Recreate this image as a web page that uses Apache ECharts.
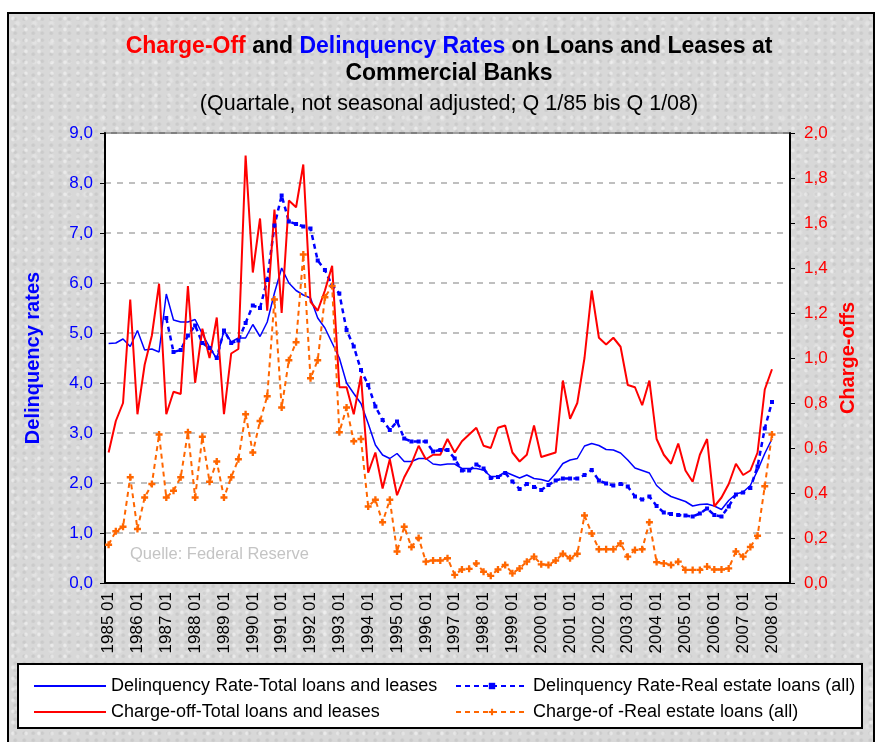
<!DOCTYPE html>
<html>
<head>
<meta charset="utf-8">
<title>Charge-Off and Delinquency Rates</title>
<script src="https://cdn.jsdelivr.net/npm/echarts@6/dist/echarts.min.js"></script>
<style>
html, body { margin: 0; padding: 0; background: #fff; }
#frame {
    position: absolute; left: 7px; top: 12px; width: 864px; height: 740px;
    border: 2px solid #000; border-bottom: none;
    background-color: #d8d8d8;
    background-image:
        radial-gradient(circle at 30% 40%, rgba(255,255,255,0.45) 1px, rgba(255,255,255,0) 2.5px),
        radial-gradient(circle at 70% 75%, rgba(170,170,170,0.3) 1px, rgba(170,170,170,0) 2.5px),
        radial-gradient(circle at 50% 50%, rgba(240,240,240,0.4) 1.5px, rgba(240,240,240,0) 3.5px);
    background-size: 13px 11px, 9px 7px, 17px 19px;
}
#main { position: absolute; left: 0; top: 0; width: 875px; height: 742px; }
</style>
</head>
<body>
<div id="frame"></div>
<div id="main"></div>
<script>
// Quarterly data, Q1 1985 .. Q1 2008 (93 quarters)
var years = [1985, 1986, 1987, 1988, 1989, 1990, 1991, 1992, 1993, 1994, 1995, 1996,
             1997, 1998, 1999, 2000, 2001, 2002, 2003, 2004, 2005, 2006, 2007, 2008];
var quarterNames = ['01', '02', '03', '04'];

// Delinquency rate, total loans and leases (left axis, %)
var delinqTotal = [4.79, 4.80, 4.88, 4.73, 5.05, 4.66, 4.68, 4.62, 5.78, 5.26,
    5.22, 5.22, 5.27, 4.98, 4.72, 4.48, 5.05, 4.82, 4.90, 4.90,
    5.17, 4.93, 5.22, 5.80, 6.30, 6.00, 5.85, 5.76, 5.70, 5.30,
    5.10, 4.80, 4.50, 4.00, 3.79, 3.59, 3.19, 2.76, 2.56, 2.49,
    2.59, 2.43, 2.43, 2.49, 2.49, 2.38, 2.36, 2.38, 2.38, 2.29,
    2.29, 2.29, 2.26, 2.13, 2.13, 2.22, 2.16, 2.10, 2.16, 2.09,
    2.07, 2.03, 2.19, 2.39, 2.46, 2.49, 2.74, 2.79, 2.75, 2.67,
    2.66, 2.60, 2.46, 2.30, 2.25, 2.20, 1.95, 1.82, 1.73, 1.68,
    1.63, 1.54, 1.57, 1.58, 1.54, 1.47, 1.65, 1.78, 1.82, 1.95,
    2.25, 2.59, 2.88];

// Delinquency rate, real estate loans (left axis, %), starts 1987
var delinqRealEstate = [null, null, null, null, null, null, null, null, 5.30, 4.62,
    4.66, 4.95, 5.15, 4.80, 4.70, 4.50, 5.05, 4.80, 4.85, 5.20,
    5.55, 5.50, 6.06, 7.15, 7.75, 7.23, 7.18, 7.13, 7.09, 6.45,
    6.26, 5.95, 5.79, 5.06, 4.73, 4.26, 3.96, 3.53, 3.26, 3.06,
    3.23, 2.89, 2.83, 2.83, 2.83, 2.63, 2.66, 2.66, 2.49, 2.25,
    2.25, 2.37, 2.29, 2.10, 2.12, 2.20, 2.03, 1.88, 1.98, 1.92,
    1.86, 1.96, 2.05, 2.09, 2.09, 2.09, 2.16, 2.26, 2.05, 1.99,
    1.95, 1.98, 1.93, 1.73, 1.67, 1.73, 1.54, 1.41, 1.38, 1.36,
    1.35, 1.33, 1.39, 1.49, 1.36, 1.33, 1.53, 1.77, 1.81, 1.90,
    2.33, 3.09, 3.62];

// Charge-off rate, total loans and leases (right axis, %)
var chargeOffTotal = [0.58, 0.72, 0.80, 1.26, 0.75, 0.97, 1.10, 1.33, 0.75, 0.85,
    0.84, 1.32, 0.89, 1.13, 1.00, 1.18, 0.75, 1.02, 1.04, 1.90,
    1.38, 1.62, 1.21, 1.66, 1.20, 1.70, 1.67, 1.86, 1.25, 1.21,
    1.30, 1.41, 0.87, 0.87, 0.75, 0.92, 0.49, 0.58, 0.42, 0.55,
    0.39, 0.47, 0.53, 0.61, 0.55, 0.57, 0.57, 0.64, 0.58, 0.63,
    0.66, 0.69, 0.61, 0.60, 0.69, 0.70, 0.58, 0.54, 0.57, 0.70,
    0.56, 0.57, 0.58, 0.90, 0.73, 0.80, 1.00, 1.30, 1.09, 1.06,
    1.09, 1.05, 0.88, 0.87, 0.79, 0.90, 0.64, 0.57, 0.53, 0.62,
    0.50, 0.45, 0.57, 0.64, 0.34, 0.38, 0.44, 0.53, 0.48, 0.50,
    0.58, 0.86, 0.95];

// Charge-off rate, real estate loans (right axis, %)
var chargeOffRealEstate = [0.17, 0.23, 0.25, 0.47, 0.24, 0.38, 0.44, 0.66, 0.38, 0.41,
    0.47, 0.67, 0.38, 0.65, 0.45, 0.54, 0.38, 0.47, 0.55, 0.75,
    0.58, 0.72, 0.83, 1.26, 0.78, 0.99, 1.07, 1.46, 0.91, 0.99,
    1.27, 1.32, 0.67, 0.78, 0.63, 0.64, 0.34, 0.37, 0.27, 0.37,
    0.14, 0.25, 0.16, 0.20, 0.095, 0.10, 0.10, 0.11, 0.036, 0.06,
    0.063, 0.087, 0.05, 0.032, 0.06, 0.08, 0.043, 0.065, 0.095, 0.117,
    0.083, 0.08, 0.10, 0.13, 0.11, 0.13, 0.30, 0.22, 0.15, 0.15,
    0.15, 0.176, 0.117, 0.147, 0.15, 0.27, 0.093, 0.087, 0.08, 0.095,
    0.058, 0.058, 0.058, 0.073, 0.06, 0.06, 0.065, 0.14, 0.117, 0.16,
    0.21, 0.43, 0.66];

var seriesNames = [
    'Delinquency Rate-Total loans and leases',
    'Delinquency Rate-Real estate loans (all)',
    'Charge-off-Total loans and leases',
    'Charge-of -Real estate loans (all)'
];

// axis runs to 2008 03 (two empty quarters after the last value)
var categories = [];
years.forEach(function (y) {
    quarterNames.forEach(function (q) { categories.push(y + ' ' + q); });
});
categories = categories.slice(0, 95);

var commaFmt = function (v) { return v.toFixed(1).replace('.', ','); };
var plusSymbol = 'path://M2,0H4V2H6V4H4V6H2V4H0V2H2Z';
var font = '"Liberation Sans", Arial, sans-serif';
var legendText = { fontFamily: font, fontSize: 18, color: '#000' };

var myChart = echarts.init(document.getElementById('main'), null, { renderer: 'canvas' });
option = {
    backgroundColor: 'transparent',
    animation: false,
    textStyle: { fontFamily: font },
    title: {
        text: '{r|Charge-Off} and {b|Delinquency Rates} on Loans and Leases at\nCommercial Banks',
        subtext: '(Quartale, not seasonal adjusted; Q 1/85 bis Q 1/08)',
        left: 449,
        top: 33,
        textAlign: 'center',
        padding: 0,
        itemGap: 5,
        textStyle: {
            fontFamily: font, fontSize: 23, fontWeight: 'bold', color: '#000', lineHeight: 27,
            rich: {
                r: { fontFamily: font, fontSize: 23, fontWeight: 'bold', color: '#ff0000', lineHeight: 27 },
                b: { fontFamily: font, fontSize: 23, fontWeight: 'bold', color: '#0000ff', lineHeight: 27 }
            }
        },
        subtextStyle: { fontFamily: font, fontSize: 21.5, color: '#000', lineHeight: 24 }
    },
    grid: {
        left: 105, right: 85, top: 133, bottom: 159,
        show: true, backgroundColor: '#fff', borderColor: '#808080', borderWidth: 2,
        outerBoundsMode: 'none'
    },
    legend: [
        {
            orient: 'vertical', left: 28, top: 672, itemWidth: 72, itemHeight: 8, itemGap: 8,
            selectedMode: false,
            data: [
                { name: seriesNames[0], itemStyle: { opacity: 0 } },
                { name: seriesNames[2], itemStyle: { opacity: 0 } }
            ],
            textStyle: legendText
        },
        {
            orient: 'vertical', left: 450, top: 672, itemWidth: 72, itemHeight: 8, itemGap: 8,
            selectedMode: false,
            data: [seriesNames[1], seriesNames[3]],
            textStyle: legendText
        }
    ],
    graphic: [
        {
            type: 'rect', z: 1, silent: true,
            shape: { x: 18, y: 664, width: 844, height: 64 },
            style: { fill: '#fff', stroke: '#000', lineWidth: 2 }
        },
        {
            type: 'text', z: 1, silent: true, left: 130, top: 546,
            style: { text: 'Quelle: Federal Reserve', fill: '#c4c4c4', font: '16.5px ' + font }
        }
    ],
    xAxis: {
        type: 'category',
        data: categories,
        boundaryGap: true,
        axisLine: { lineStyle: { color: '#000', width: 2 } },
        axisTick: { interval: 0, length: 5, lineStyle: { color: '#000', width: 1 } },
        axisLabel: { interval: 3, rotate: 90, color: '#000', fontSize: 17, margin: 9, fontFamily: font },
        splitLine: { show: false }
    },
    yAxis: [
        {
            type: 'value', position: 'left', min: 0, max: 9, interval: 1,
            name: 'Delinquency rates', nameLocation: 'middle', nameGap: 62,
            nameTextStyle: { color: '#0000ff', fontWeight: 'bold', fontSize: 20, fontFamily: font },
            axisLine: { show: true, lineStyle: { color: '#000', width: 2 } },
            axisTick: { show: true, length: 5, lineStyle: { color: '#000' } },
            axisLabel: { color: '#0000ff', fontSize: 17, margin: 12, formatter: commaFmt, fontFamily: font },
            splitLine: { show: true, lineStyle: { color: '#aaaaaa', type: [6, 6], width: 1.5 } }
        },
        {
            type: 'value', position: 'right', min: 0, max: 2, interval: 0.2,
            name: 'Charge-offs', nameLocation: 'middle', nameGap: 48,
            nameTextStyle: { color: '#ff0000', fontWeight: 'bold', fontSize: 20, fontFamily: font },
            axisLine: { show: true, lineStyle: { color: '#000', width: 2 } },
            axisTick: { show: true, length: 5, lineStyle: { color: '#000' } },
            axisLabel: { color: '#ff0000', fontSize: 17, margin: 14, formatter: commaFmt, fontFamily: font },
            splitLine: { show: false }
        }
    ],
    series: [
        {
            name: seriesNames[0], type: 'line', yAxisIndex: 0, data: delinqTotal,
            symbol: 'none', lineStyle: { color: '#0000ff', width: 1.5 }, itemStyle: { color: '#0000ff' }
        },
        {
            name: seriesNames[1], type: 'line', yAxisIndex: 0, data: delinqRealEstate,
            symbol: 'rect', symbolSize: 4, showAllSymbol: true,
            lineStyle: { color: '#0000ff', width: 2.5, type: [5, 4] }, itemStyle: { color: '#0000ff' }
        },
        {
            name: seriesNames[2], type: 'line', yAxisIndex: 1, data: chargeOffTotal,
            symbol: 'none', lineStyle: { color: '#ff0000', width: 2 }, itemStyle: { color: '#ff0000' }
        },
        {
            name: seriesNames[3], type: 'line', yAxisIndex: 1, data: chargeOffRealEstate,
            symbol: plusSymbol, symbolSize: 7, showAllSymbol: true,
            lineStyle: { color: '#ff6600', width: 2, type: [5, 4] }, itemStyle: { color: '#ff6600' }
        }
    ]
};
myChart.setOption(option);
</script>
</body>
</html>
